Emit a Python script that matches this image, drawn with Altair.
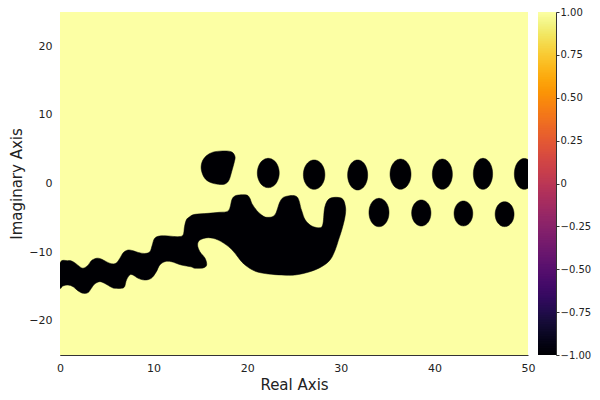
import altair as alt
import numpy as np
import pandas as pd

# ---- Black region (value -1) outlines ----
# Wavy tail joined to the large blob
tail_blob_x = [0, 0.85, 1.4, 1.9, 2.45, 3.0, 3.35, 3.9, 4.4, 4.95, 5.5, 6.0, 6.4, 6.75,
               7.25, 7.8, 8.35, 9.05, 9.6, 9.85, 10.1, 10.65, 11.55, 12.6, 13.15, 13.3,
               13.5, 13.85, 14.4, 15.8, 17.0, 18.0, 18.35, 18.6, 19.05, 19.95, 20.3, 20.5,
               21.0, 21.55, 22.1, 22.95, 23.5, 24.05, 25.3, 25.8, 26.2, 26.9, 27.8, 28.1,
               28.3, 28.85, 30.1, 30.5, 30.45, 30.1, 29.75, 29.4, 28.85, 27.95, 26.7, 25.1,
               23.7, 22.25, 21.0, 20.1, 19.4, 18.7, 18.0, 16.9, 15.85, 14.95, 14.7, 14.95,
               15.5, 15.67, 15.3, 14.4, 14.0, 12.95, 11.9, 11.2, 10.65, 10.3, 9.75, 9.05,
               8.35, 7.8, 7.45, 7.1, 6.9, 6.55, 5.85, 5.5, 4.75, 4.25, 3.7, 3.35, 3.0, 2.45,
               1.9, 1.4, 0.85, 0.3, 0]
tail_blob_y = [-11.6, -11.25, -11.4, -11.9, -12.35, -11.9, -11.25, -10.9, -11.0, -11.4,
               -11.7, -11.6, -10.9, -10.1, -9.7, -9.8, -10.05, -10.2, -9.95, -9.0, -8.0,
               -7.65, -7.65, -7.75, -7.5, -6.3, -5.3, -4.85, -4.5, -4.35, -4.2, -3.96, -2.4,
               -1.9, -1.68, -1.68, -2.2, -2.9, -3.9, -4.6, -4.93, -4.6, -2.65, -1.92, -1.92,
               -3.86, -5.3, -6.2, -6.44, -5.8, -3.4, -2.16, -2.16, -3.4, -4.84, -6.78, -8.25,
               -9.7, -11.15, -12.13, -12.86, -13.34, -13.34, -13.19, -12.86, -12.22, -11.4,
               -10.18, -9.2, -8.24, -7.9, -8.24, -8.97, -9.94, -10.9, -11.88, -12.3, -12.35,
               -12.15, -11.88, -11.4, -11.4, -11.9, -12.85, -13.82, -14.07, -13.82, -13.34,
               -13.34, -14.07, -15.04, -15.28, -15.28, -15.13, -14.55, -14.31, -14.65, -15.28,
               -15.9, -16.0, -15.62, -15.04, -14.8, -14.94, -15.1]

# Irregular blob above the tail
top_blob_x = [15.85, 16.56, 17.8, 18.41, 18.7, 18.63, 18.34, 18.06, 17.63, 16.92, 16.03,
              15.42, 15.1, 15.13, 15.39]
top_blob_y = [4.25, 4.64, 4.74, 4.54, 3.91, 3.18, 1.72, 0.51, -0.07, -0.12, 0.17, 0.85,
              1.97, 2.94, 3.67]

# Oval islands: centres and half sizes
dot_cx = [22.25, 27.15, 31.8, 36.38, 40.85, 45.19, 49.6, 34.08, 38.6, 43.1, 47.5]
dot_cy = [1.53, 1.29, 1.24, 1.36, 1.36, 1.41, 1.4, -4.23, -4.3, -4.37, -4.47]
dot_rx = [1.17, 1.15, 1.07, 1.12, 1.07, 1.03, 1.06, 1.07, 1.03, 1.0, 1.01]
dot_ry = [2.14, 2.14, 2.19, 2.2, 2.2, 2.26, 2.25, 2.07, 1.9, 1.82, 1.82]

# Domain of the field (value +1 everywhere else)
x_range = [0, 50]
y_range = [-25, 25]
x_ticks = [0, 10, 20, 30, 40, 50]
y_ticks = [-20, -10, 0, 10, 20]
cb_ticks = [-1, -0.75, -0.5, -0.25, 0, 0.25, 0.5, 0.75, 1]

# ---- Build tables ----
rows = []
for i, (x, y) in enumerate(zip(tail_blob_x, tail_blob_y)):
    rows.append(dict(poly="tail", i=i, x=x, y=y, value=-1))
for i, (x, y) in enumerate(zip(top_blob_x, top_blob_y)):
    rows.append(dict(poly="blob", i=i, x=x, y=y, value=-1))
t = np.linspace(0, 2 * np.pi, 48, endpoint=False)
for k, (cx, cy, rx, ry) in enumerate(zip(dot_cx, dot_cy, dot_rx, dot_ry)):
    for i, a in enumerate(t):
        rows.append(dict(poly=f"dot{k}", i=i, x=cx + rx * np.cos(a), y=cy + ry * np.sin(a), value=-1))
poly_df = pd.DataFrame(rows)

bg_df = pd.DataFrame([dict(x0=x_range[0], x1=x_range[1], y0=y_range[0], y1=y_range[1], value=1)])

FONT = "DejaVu Sans"
TXT = "#222222"
AX = "#333333"
color_scale = alt.Scale(scheme="inferno", domain=[-1, 1])
sx = alt.Scale(domain=x_range, nice=False, zero=False)
sy = alt.Scale(domain=y_range, nice=False, zero=False)

xaxis = alt.Axis(title="Real Axis", values=x_ticks, grid=False, tickSize=0, labelPadding=7,
                 labelFontSize=11, titleFontSize=15, titlePadding=4, domainColor=AX,
                 labelColor=TXT, titleColor=TXT, labelFont=FONT, titleFont=FONT,
                 titleFontWeight="normal", labelFlush=False)
yaxis = alt.Axis(title="Imaginary Axis", values=y_ticks, grid=False, tickSize=0, labelPadding=8,
                 labelFontSize=11, titleFontSize=15, titlePadding=4, domainColor=AX,
                 labelColor=TXT, titleColor=TXT, labelFont=FONT, titleFont=FONT,
                 titleFontWeight="normal")

bg = alt.Chart(bg_df).mark_rect().encode(
    x=alt.X("x0:Q", scale=sx, axis=xaxis), x2="x1:Q",
    y=alt.Y("y0:Q", scale=sy, axis=yaxis), y2="y1:Q",
    color=alt.Color("value:Q", scale=color_scale, legend=None),
)
shapes = alt.Chart(poly_df).mark_line(clip=True, strokeWidth=0.5, interpolate="cardinal-closed").encode(
    x=alt.X("x:Q", scale=sx),
    y=alt.Y("y:Q", scale=sy),
    order=alt.Order("i:Q"),
    detail="poly:N",
    fill=alt.Fill("value:Q", scale=color_scale, legend=None),
    color=alt.Color("value:Q", scale=color_scale, legend=None),
)
field = alt.layer(bg, shapes)

# Colour bar, drawn to the right of the plot area with its own axis
cb = alt.Chart(alt.sequence(-1, 1, 0.01, as_="v")).transform_calculate(
    v2="min(datum.v + 0.02, 1)", vm="datum.v + 0.005"
).mark_rect().encode(
    x=alt.value(478), x2=alt.value(496),
    y=alt.Y("v:Q", scale=alt.Scale(domain=[-1, 1], nice=False, zero=False),
            axis=alt.Axis(orient="right", offset=28, title=None, values=cb_ticks, grid=False,
                          tickSize=3, labelPadding=1, labelFontSize=10, labelFont=FONT,
                          labelColor=TXT, domainColor=AX, tickColor=AX,
                          labelExpr="datum.value == 0 ? '0' : format(datum.value, '.2f')")),
    y2="v2:Q",
    color=alt.Color("vm:Q", scale=color_scale, legend=None),
)

chart = alt.layer(field, cb).resolve_scale(y="independent").properties(
    width=468, height=343,
    autosize=alt.AutoSizeParams(type="none"),
    padding={"left": 52, "top": 4, "right": 64, "bottom": 44},
).configure_view(strokeWidth=0)

chart.save("out.html", embed_options={"renderer": "svg", "actions": False})
